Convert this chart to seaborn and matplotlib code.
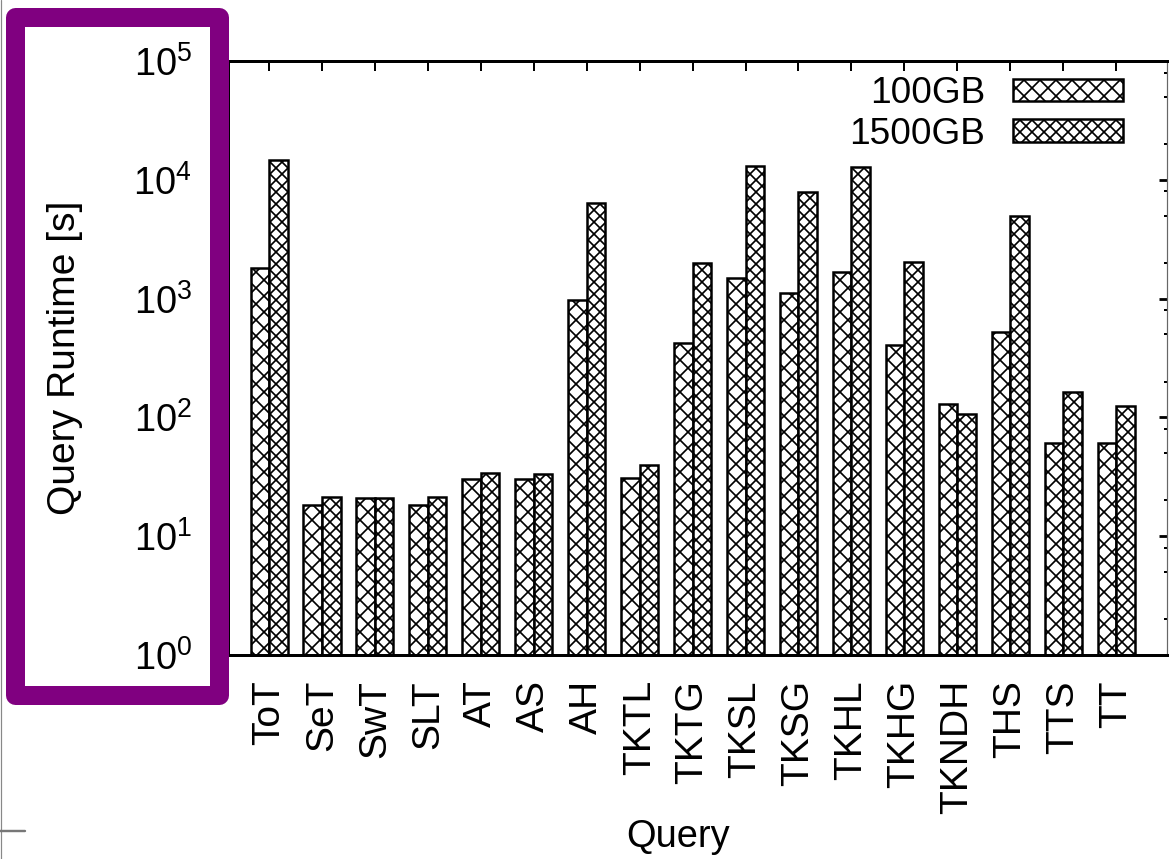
import numpy as np
import pandas as pd
import matplotlib
matplotlib.use("Agg")
import matplotlib.pyplot as plt
import seaborn as sns
from matplotlib.ticker import LogLocator, LogFormatterSciNotation, NullFormatter
from matplotlib.patches import Patch, Rectangle
from matplotlib.lines import Line2D

queries = ["ToT", "SeT", "SwT", "SLT", "AT", "AS", "AH", "TKTL", "TKTG", "TKSL",
           "TKSG", "TKHL", "TKHG", "TKNDH", "THS", "TTS", "TT"]
sizes = ["100GB", "1500GB"]
runtime_100 = [1800, 18.3, 21, 18.3, 30.3, 30.3, 973, 30.7, 425, 1482,
               1122, 1665, 407, 130, 526, 60.5, 60.5]
runtime_1500 = [14700, 21.3, 21, 21.3, 33.8, 33.5, 6415, 39.7, 1983, 13060,
                7940, 12900, 2020, 107, 4960, 165, 125]
hatches = ["xxx", "xxxx"]

sns.set_style("white")
plt.rcParams["font.family"] = ["Liberation Sans", "DejaVu Sans"]
plt.rcParams["mathtext.fontset"] = "custom"
plt.rcParams["mathtext.rm"] = "Liberation Sans"
plt.rcParams["mathtext.it"] = "Liberation Sans:italic"
plt.rcParams["mathtext.bf"] = "Liberation Sans:bold"
plt.rcParams["mathtext.default"] = "regular"
plt.rcParams["hatch.linewidth"] = 0.85
plt.rcParams["hatch.color"] = "black"
for k in ["text.color", "axes.labelcolor", "xtick.color", "ytick.color",
          "xtick.labelcolor", "ytick.labelcolor"]:
    plt.rcParams[k] = "black"

df = pd.DataFrame({
    "Query": queries * 2,
    "Size": [sizes[0]] * len(queries) + [sizes[1]] * len(queries),
    "Runtime": runtime_100 + runtime_1500,
})

W, H, DPI = 1169, 859, 144
fig = plt.figure(figsize=(W / DPI, H / DPI), dpi=DPI)
fig.patch.set_facecolor("white")
ax = fig.add_axes([228 / W, (H - 655) / H, (1167 - 228) / W, (655 - 61) / H])

sns.barplot(data=df, x="Query", y="Runtime", hue="Size", order=queries,
            hue_order=sizes, palette=["white", "white"], saturation=1,
            edgecolor="black", linewidth=1.25, width=0.7, gap=0,
            errorbar=None, legend=False, ax=ax)

for cont, h in zip(ax.containers, hatches):
    for bar in cont:
        bar.set_hatch(h)

ax.set_yscale("log")
ax.set_ylim(1, 1e5)
ax.set_xlim(-0.775, 16.96)

ax.yaxis.set_major_locator(LogLocator(base=10, numticks=10))
ax.yaxis.set_major_formatter(LogFormatterSciNotation())
ax.yaxis.set_minor_locator(LogLocator(base=10, subs=[2, 5, 8], numticks=20))
ax.yaxis.set_minor_formatter(NullFormatter())

ax.tick_params(axis="y", which="both", left=False, right=True, direction="in",
               labelleft=True, labelright=False, labelsize=19, pad=18)
ax.tick_params(axis="y", which="major", length=4, width=1.4, color="black")
ax.tick_params(axis="y", which="minor", length=1.6, width=1.0, color="black")
ax.tick_params(axis="x", which="both", top=True, bottom=False, direction="in",
               length=5, width=1.0, labeltop=False, labelbottom=True,
               labelsize=19.5, pad=12.5)
for lab in ax.get_xticklabels():
    lab.set_rotation(90)

for s in ["top", "bottom", "left"]:
    ax.spines[s].set_linewidth(1.5)
    ax.spines[s].set_color("black")
ax.spines["right"].set_linewidth(0.6)
ax.spines["right"].set_color("#666666")

ax.set_xlabel("Query", fontsize=19)
ax.set_ylabel("Query Runtime [s]", fontsize=19.5)
ax.xaxis.set_label_coords((678 - 228) / 939, (655 - 819) / 594)
ax.yaxis.set_label_coords((83 - 228) / 939, (655 - 358) / 594)

handles = [Patch(facecolor="white", edgecolor="black", hatch=h, linewidth=1.25, label=s)
           for s, h in zip(sizes, hatches)]
ax.legend(handles=handles, loc="upper right",
          bbox_to_anchor=(1123 / W, 1 - 76 / H), bbox_transform=fig.transFigure,
          frameon=False, markerfirst=False, fontsize=18.5, borderpad=0,
          borderaxespad=0, handlelength=110 / 37, handleheight=21 / 37,
          handletextpad=28 / 37, labelspacing=0.16)

# purple highlight frame around the y-axis area
rect = Rectangle((14.5 / DPI, (H - 694.5) / DPI), (218.5 - 14.5) / DPI,
                 (694.5 - 17) / DPI, transform=fig.dpi_scale_trans, fill=False,
                 edgecolor="#800080", linewidth=9.5, joinstyle="round", zorder=10)
fig.add_artist(rect)

# page edge artifacts
fig.add_artist(Line2D([1 / W, 1 / W], [0, 1], transform=fig.transFigure,
                      color="#888888", lw=0.6))
fig.add_artist(Line2D([0, 25 / W], [1 - 831 / H, 1 - 831 / H],
                      transform=fig.transFigure, color="#777777", lw=1.2))

fig.savefig("out.png", dpi=DPI, facecolor="white")
